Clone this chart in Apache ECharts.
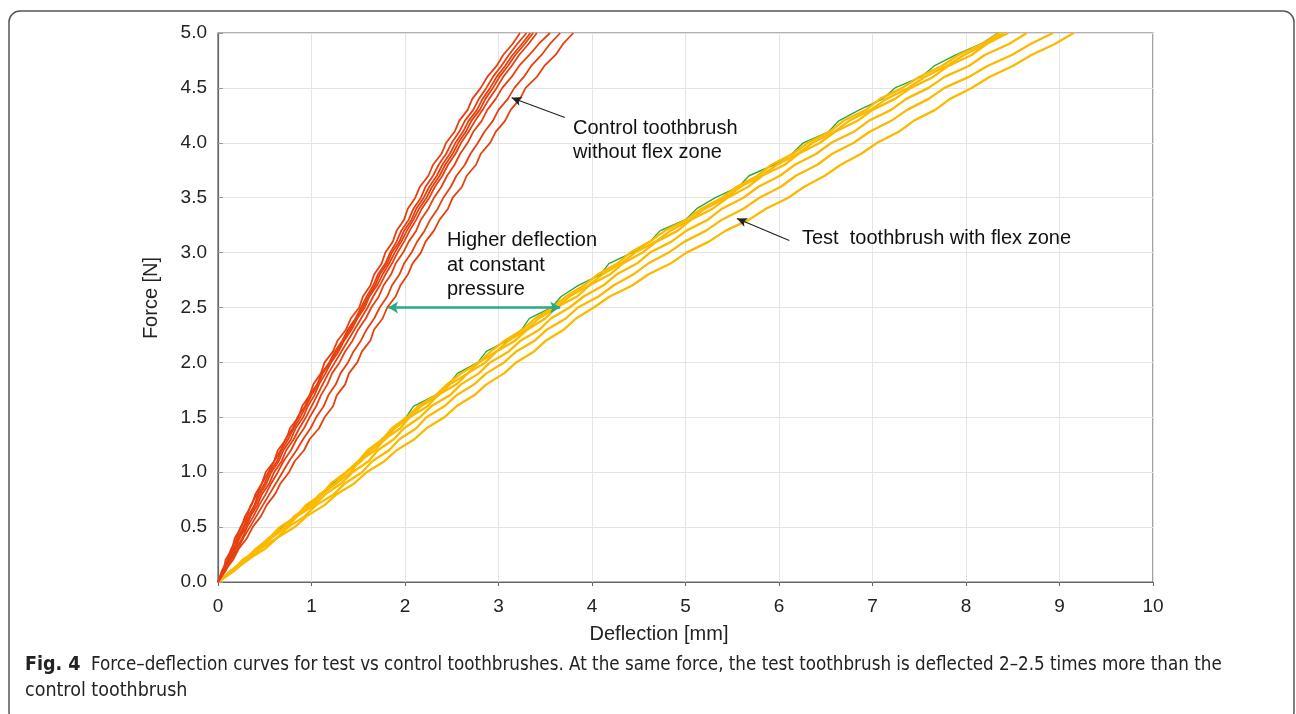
<!DOCTYPE html>
<html><head><meta charset="utf-8">
<script src="https://cdn.jsdelivr.net/npm/echarts@6/dist/echarts.min.js"></script>
<style>html,body{margin:0;padding:0;background:#fff}#c{width:1296px;height:714px}</style>
</head><body><div id="c"></div>
<script>
// Force levels (N) shared by every measured curve
const force = [0,0.1,0.2,0.3,0.4,0.5,0.6,0.7,0.8,0.9,1.0,1.1,1.2,1.3,1.4,1.5,1.6,1.7,1.8,1.9,2.0,2.1,2.2,2.3,2.4,2.5,2.6,2.7,2.8,2.9,3.0,3.1,3.2,3.3,3.4,3.5,3.6,3.7,3.8,3.9,4.0,4.1,4.2,4.3,4.4,4.5,4.6,4.7,4.8,4.9,5.0];
// Control toothbrush (without flex zone): deflection in mm at each force
const ctrl1 = [0,0.06,0.08,0.15,0.18,0.25,0.29,0.36,0.40,0.47,0.51,0.60,0.64,0.73,0.77,0.86,0.90,0.98,1.02,1.10,1.14,1.23,1.28,1.37,1.42,1.51,1.55,1.63,1.67,1.75,1.79,1.87,1.91,1.99,2.03,2.11,2.16,2.25,2.30,2.39,2.44,2.53,2.58,2.67,2.72,2.81,2.88,2.98,3.05,3.15,3.23];
const ctrl2 = [0,0.04,0.10,0.14,0.20,0.24,0.31,0.35,0.42,0.47,0.54,0.60,0.67,0.72,0.80,0.85,0.93,0.98,1.06,1.11,1.19,1.25,1.33,1.39,1.47,1.53,1.59,1.66,1.71,1.79,1.84,1.91,1.96,2.04,2.09,2.17,2.22,2.30,2.36,2.44,2.50,2.58,2.64,2.73,2.79,2.87,2.94,3.03,3.11,3.20,3.30];
const ctrl3 = [0,0.06,0.11,0.17,0.21,0.27,0.32,0.39,0.43,0.50,0.55,0.63,0.68,0.75,0.81,0.88,0.94,1.00,1.07,1.12,1.20,1.27,1.34,1.41,1.48,1.55,1.61,1.68,1.73,1.81,1.86,1.94,1.99,2.07,2.12,2.20,2.26,2.34,2.40,2.48,2.54,2.62,2.68,2.77,2.83,2.91,2.98,3.07,3.15,3.25,3.34];
const ctrl4 = [0,0.05,0.12,0.16,0.23,0.28,0.34,0.40,0.45,0.52,0.57,0.65,0.70,0.78,0.83,0.91,0.96,1.03,1.08,1.15,1.21,1.29,1.35,1.43,1.49,1.57,1.62,1.70,1.76,1.83,1.89,1.96,2.02,2.09,2.15,2.23,2.29,2.37,2.43,2.51,2.57,2.65,2.71,2.80,2.86,2.94,3.01,3.10,3.18,3.28,3.37];
const ctrl5 = [0,0.07,0.11,0.18,0.23,0.30,0.35,0.42,0.47,0.55,0.60,0.68,0.73,0.81,0.87,0.94,1.00,1.06,1.12,1.18,1.25,1.32,1.39,1.46,1.53,1.60,1.66,1.73,1.79,1.86,1.92,1.99,2.05,2.12,2.18,2.26,2.32,2.40,2.46,2.54,2.60,2.68,2.75,2.83,2.90,2.98,3.05,3.14,3.22,3.32,3.41];
const ctrl6 = [0,0.06,0.13,0.19,0.26,0.31,0.38,0.44,0.51,0.57,0.64,0.70,0.78,0.84,0.92,0.98,1.05,1.10,1.17,1.22,1.30,1.36,1.44,1.50,1.58,1.64,1.72,1.77,1.85,1.90,1.98,2.04,2.12,2.17,2.25,2.31,2.39,2.45,2.53,2.59,2.67,2.73,2.82,2.88,2.97,3.04,3.14,3.22,3.33,3.43,3.55];
const ctrl7 = [0,0.08,0.14,0.21,0.27,0.34,0.41,0.48,0.55,0.62,0.69,0.76,0.84,0.91,0.99,1.05,1.13,1.18,1.26,1.31,1.39,1.45,1.53,1.59,1.67,1.73,1.81,1.86,1.94,1.99,2.07,2.13,2.21,2.27,2.35,2.41,2.49,2.55,2.64,2.70,2.78,2.85,2.94,3.00,3.10,3.17,3.27,3.35,3.46,3.55,3.66];
const ctrl8 = [0,0.07,0.16,0.22,0.31,0.37,0.46,0.52,0.61,0.67,0.76,0.82,0.92,0.98,1.08,1.14,1.23,1.27,1.36,1.40,1.49,1.54,1.63,1.67,1.76,1.81,1.90,1.95,2.03,2.08,2.17,2.22,2.31,2.37,2.46,2.51,2.61,2.66,2.76,2.81,2.91,2.97,3.07,3.13,3.23,3.29,3.41,3.49,3.61,3.69,3.80];
// Test toothbrush (with flex zone): deflection in mm at each force
const testG = [0,0.15,0.28,0.42,0.55,0.69,0.83,0.96,1.10,1.23,1.37,1.50,1.63,1.75,1.88,2.01,2.09,2.32,2.47,2.56,2.78,2.87,3.10,3.25,3.33,3.57,3.67,3.85,4.09,4.18,4.43,4.62,4.73,5.00,5.12,5.32,5.57,5.68,5.95,6.14,6.26,6.53,6.64,6.86,7.11,7.24,7.52,7.66,7.89,8.16,8.34];
const test1 = [0,0.13,0.29,0.40,0.55,0.66,0.84,0.94,1.11,1.21,1.37,1.50,1.60,1.76,1.86,2.02,2.14,2.33,2.45,2.60,2.79,2.92,3.07,3.26,3.39,3.58,3.72,3.91,4.06,4.27,4.41,4.62,4.78,5.01,5.17,5.39,5.55,5.77,5.92,6.15,6.31,6.54,6.69,6.93,7.08,7.32,7.50,7.74,7.92,8.17,8.36];
const test6 = [0,0.16,0.27,0.43,0.54,0.71,0.82,0.98,1.09,1.26,1.37,1.53,1.63,1.79,1.89,2.05,2.17,2.36,2.48,2.67,2.79,2.98,3.11,3.30,3.43,3.62,3.76,3.96,4.11,4.31,4.46,4.68,4.84,5.05,5.21,5.43,5.59,5.81,5.98,6.20,6.36,6.59,6.75,6.98,7.15,7.38,7.56,7.79,7.98,8.21,8.40];
const test2 = [0,0.15,0.26,0.44,0.55,0.72,0.82,1.00,1.11,1.27,1.42,1.51,1.68,1.78,1.95,2.05,2.24,2.35,2.55,2.67,2.86,2.98,3.18,3.31,3.50,3.62,3.84,3.97,4.19,4.33,4.54,4.69,4.92,5.06,5.29,5.45,5.67,5.82,6.06,6.21,6.44,6.60,6.84,7.00,7.24,7.41,7.65,7.81,8.06,8.22,8.45];
const test3 = [0,0.15,0.28,0.45,0.57,0.73,0.85,1.03,1.15,1.32,1.44,1.61,1.71,1.88,1.99,2.16,2.28,2.48,2.60,2.79,2.91,3.11,3.24,3.44,3.56,3.76,3.91,4.12,4.26,4.48,4.62,4.85,5.01,5.24,5.39,5.62,5.78,6.01,6.17,6.40,6.56,6.80,6.96,7.20,7.36,7.60,7.77,8.03,8.20,8.46,8.65];
const test4 = [0,0.14,0.32,0.45,0.63,0.75,0.93,1.05,1.24,1.36,1.54,1.65,1.83,1.94,2.12,2.23,2.42,2.55,2.74,2.87,3.06,3.19,3.39,3.52,3.72,3.85,4.07,4.23,4.44,4.60,4.82,4.99,5.22,5.39,5.62,5.79,6.02,6.18,6.41,6.57,6.80,6.97,7.20,7.37,7.60,7.77,8.03,8.23,8.49,8.69,8.93];
const test5 = [0,0.17,0.31,0.50,0.63,0.82,0.95,1.14,1.27,1.46,1.59,1.78,1.91,2.10,2.23,2.42,2.55,2.74,2.87,3.06,3.19,3.38,3.51,3.70,3.83,4.02,4.19,4.43,4.60,4.84,5.01,5.25,5.43,5.68,5.86,6.10,6.27,6.49,6.66,6.88,7.05,7.28,7.44,7.67,7.83,8.06,8.25,8.50,8.70,8.95,9.15];

const controlCurves = [ctrl1,ctrl2,ctrl3,ctrl4,ctrl5,ctrl6,ctrl7,ctrl8];
const testCurves = [test5,test4,test3,test2,test6,test1];

const RED = '#e6400f', YEL = '#fbb900', GRN = '#2ea83a';
const FONT = "'Liberation Sans', Arial, sans-serif";
const CAP = "'DejaVu Sans Condensed','Liberation Sans Narrow',sans-serif";

function toPairs(defl){ return force.map((f,i)=>[defl[i], f]); }

const series = [];
series.push({type:'line', data: toPairs(testG), showSymbol:false, lineStyle:{color:GRN,width:1.4}, z:2, silent:true});
testCurves.forEach(c=>series.push({type:'line', data: toPairs(c), showSymbol:false, lineStyle:{color:YEL,width:2.3}, z:3, silent:true}));
controlCurves.forEach(c=>series.push({type:'line', data: toPairs(c), showSymbol:false, lineStyle:{color:RED,width:1.8}, z:3, silent:true}));
// annotation arrows
series.push({type:'line', data:[], z:5, markLine:{silent:true, animation:false, symbol:['none','arrow'], symbolSize:[7,10], label:{show:false},
  lineStyle:{color:'#222',width:1.2,type:'solid'},
  data:[[{coord:[3.71,4.23]},{coord:[3.14,4.41]}],[{coord:[6.11,3.11]},{coord:[5.55,3.31]}]]}});
series.push({type:'line', data:[], z:5, markLine:{silent:true, animation:false, symbol:['arrow','arrow'], symbolSize:[9,10], label:{show:false},
  lineStyle:{color:'#2aa98a',width:2.6,type:'solid'},
  data:[[{coord:[1.82,2.5]},{coord:[3.66,2.5]}]]}});

const chart = echarts.init(document.getElementById('c'), null, {renderer:'canvas'});
chart.setOption({
  animation:false,
  backgroundColor:'#fff',
  grid:{left:218,right:143,top:33,bottom:132,show:true,borderColor:'#666',borderWidth:1.2,backgroundColor:'transparent'},
  xAxis:{type:'value',min:0,max:10,interval:1,
    axisLine:{show:true,lineStyle:{color:'#666',width:1.2}},
    axisTick:{show:true,inside:false,length:4,lineStyle:{color:'#666'}},
    axisLabel:{color:'#222',fontSize:19,fontFamily:FONT,margin:15},
    splitLine:{show:true,lineStyle:{color:'#e4e4e4',width:1}}},
  yAxis:{type:'value',min:0,max:5,interval:0.5,
    axisLine:{show:true,lineStyle:{color:'#666',width:1.2}},
    axisTick:{show:true,inside:true,length:5,lineStyle:{color:'#999'}},
    axisLabel:{color:'#222',fontSize:19,fontFamily:FONT,margin:11,formatter:v=>v.toFixed(1)},
    splitLine:{show:true,lineStyle:{color:'#e4e4e4',width:1}}},
  series:series,
  graphic:[
    {type:'rect',silent:true,z:-1,shape:{x:9,y:11,width:1285,height:712,r:11},style:{fill:'none',stroke:'#555',lineWidth:1.5}},
    {type:'text',silent:true,z:100,x:151,y:298,rotation:Math.PI/2,style:{text:'Force [N]',font:"20px "+FONT,fill:'#222',align:'center',verticalAlign:'middle'}},
    {type:'text',silent:true,z:100,x:659,y:634,style:{text:'Deflection [mm]',font:"20px "+FONT,fill:'#222',align:'center',verticalAlign:'middle'}},
    {type:'text',silent:true,z:100,x:573,y:140,style:{text:'Control toothbrush\nwithout flex zone',font:"20px "+FONT,fill:'#111',lineHeight:24,verticalAlign:'middle'}},
    {type:'text',silent:true,z:100,x:802,y:238,style:{text:'Test  toothbrush with flex zone',font:"20px "+FONT,fill:'#111',verticalAlign:'middle'}},
    {type:'text',silent:true,z:100,x:447,y:265,style:{text:'Higher deflection\nat constant\npressure',font:"20px "+FONT,fill:'#111',lineHeight:24.5,verticalAlign:'middle'}},
    {type:'text',silent:true,z:100,x:25,y:665,style:{text:'Fig. 4',font:"bold 19.5px "+CAP,fill:'#222',verticalAlign:'middle'}},
    {type:'text',silent:true,z:100,x:91,y:665,scaleX:0.956,style:{text:'Force\u2013deflection curves for test vs control toothbrushes. At the same force, the test toothbrush is deflected 2\u20132.5 times more than the',font:"19.5px "+CAP,fill:'#222',verticalAlign:'middle'}},
    {type:'text',silent:true,z:100,x:25,y:691,style:{text:'control toothbrush',font:"19.5px "+CAP,fill:'#222',verticalAlign:'middle'}}
  ]
});
</script></body></html>
